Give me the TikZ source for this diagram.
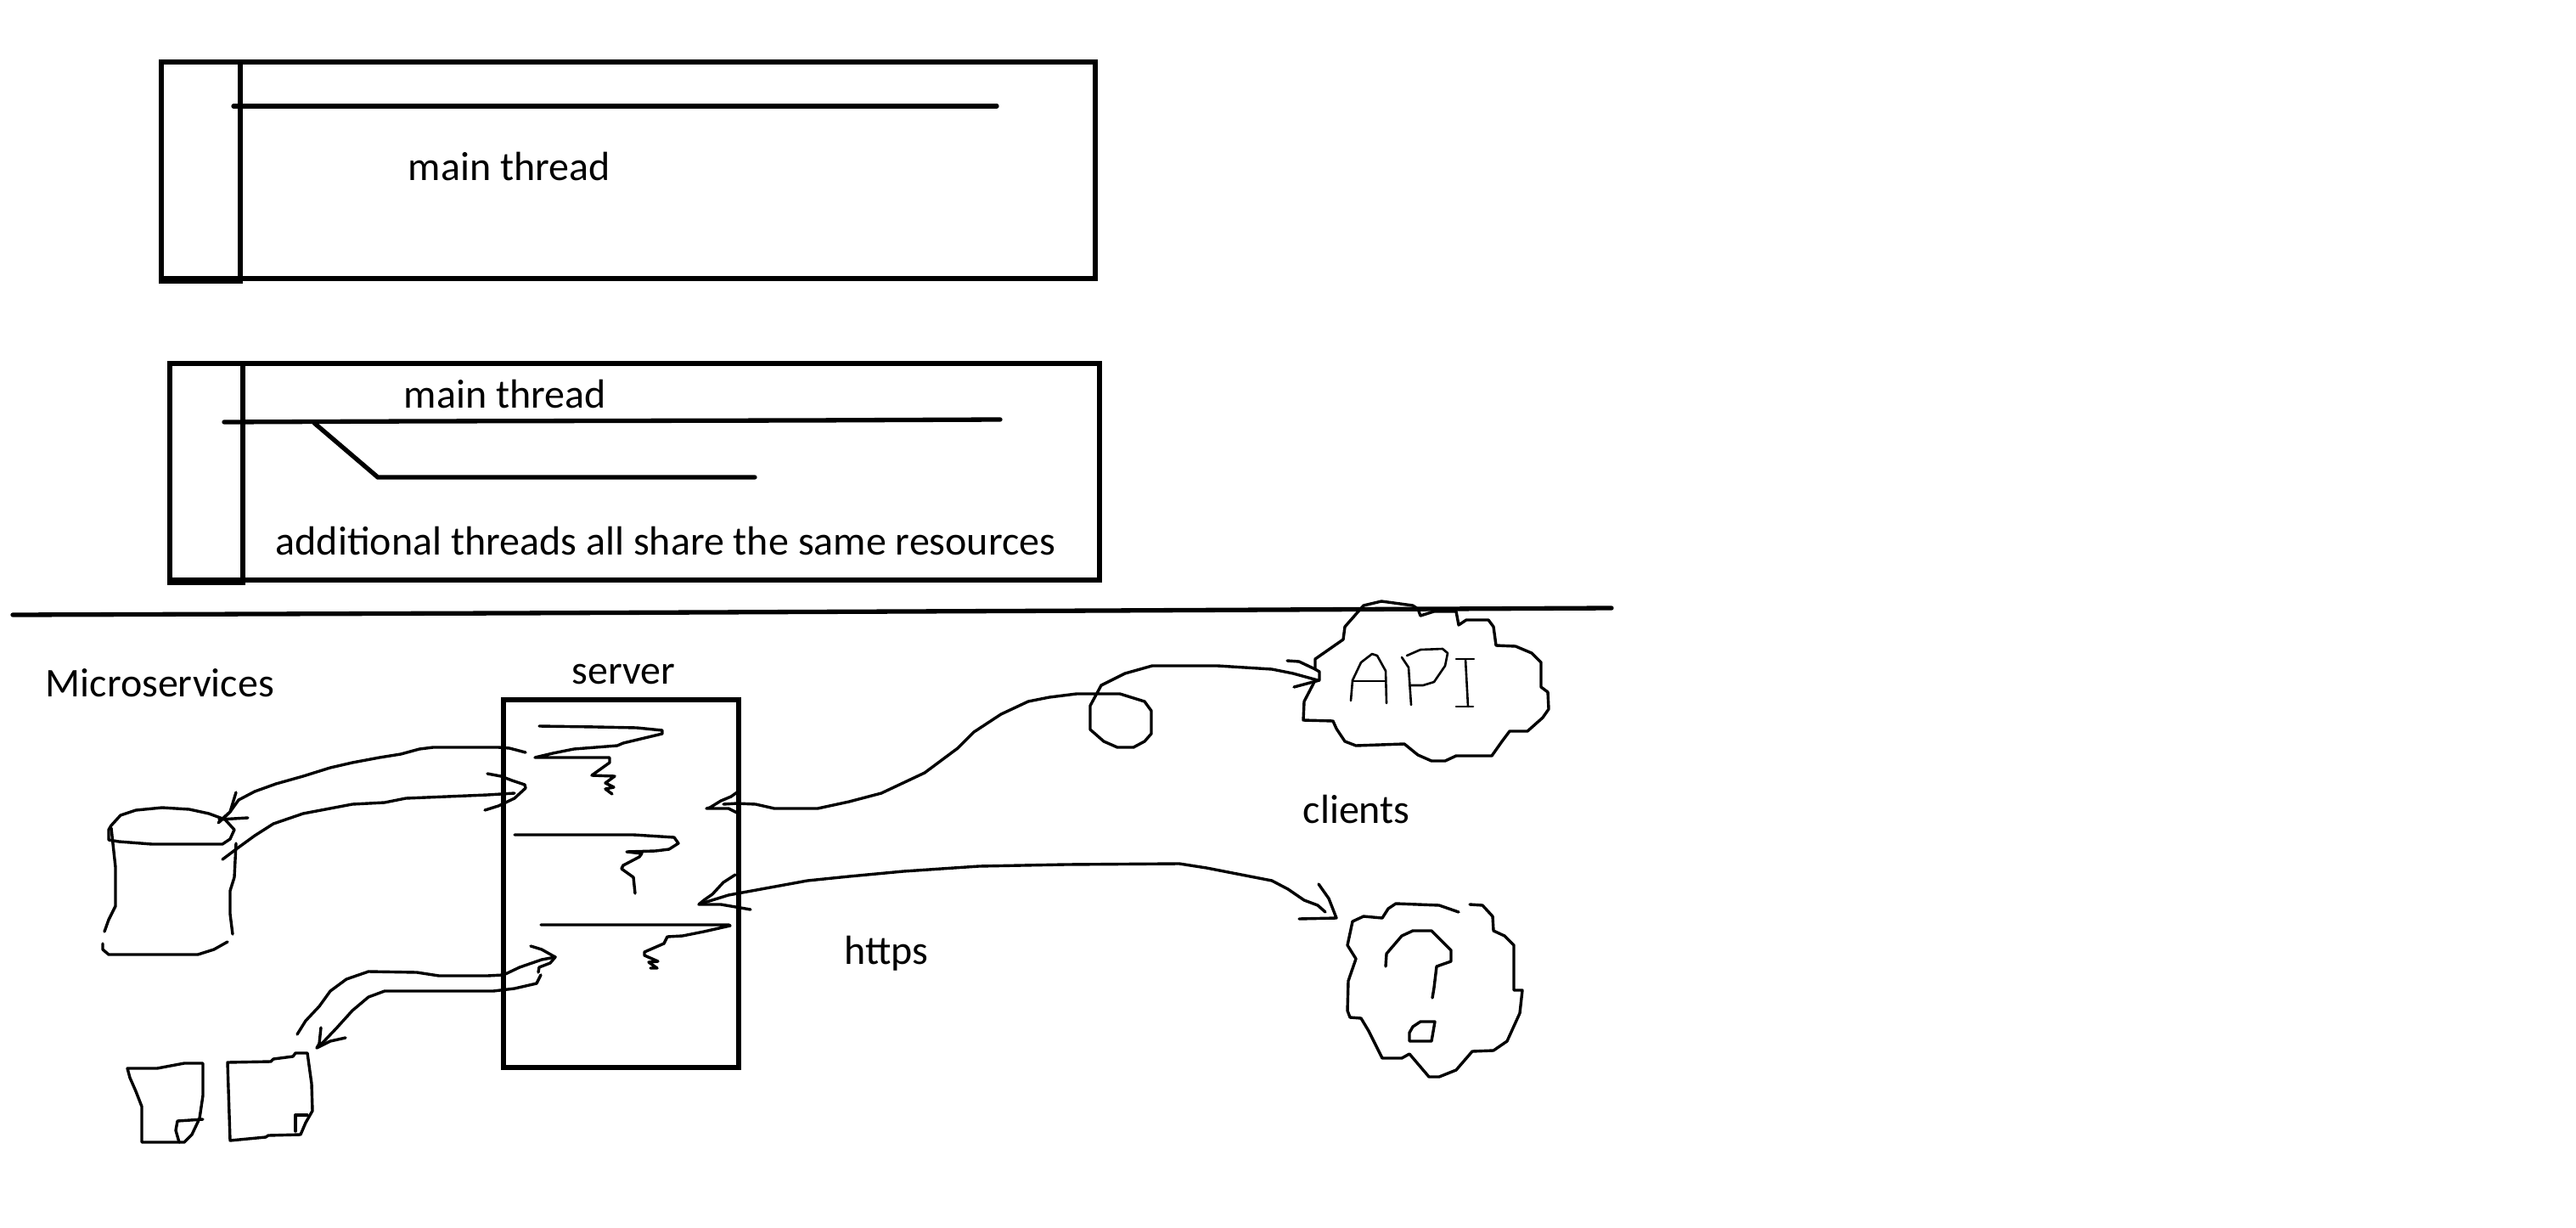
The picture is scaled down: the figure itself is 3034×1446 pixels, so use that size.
\documentclass[tikz,border=0pt]{standalone}
\usepackage{fontspec}
\setmainfont{Carlito}

\begin{document}
\begin{tikzpicture}[x=0.01cm,y=-0.01cm,
		frame/.style={line width=0.053cm,line join=miter},
		pen/.style={line width=0.034cm,line join=round,line cap=round},
		thin pen/.style={line width=0.026cm,line join=round,line cap=round},
		rule/.style={line width=0.053cm,line cap=round},
		label/.style={anchor=base west,inner sep=0pt,font=\fontsize{13.65pt}{16pt}\selectfont}]
	\useasboundingbox (0,0) rectangle (3034,1446);

	\foreach \l/\c/\r/\t/\b in {190/283/1290/73/328, 200/286/1295/428/683} {
		\draw [frame] (\l,\t) rectangle (\r,\b);
		\draw [frame] (\l,\t) rectangle (\c,\b+3);
	}
	\draw [rule] (275,125) -- (1174,125);
	\draw [rule] (264,497) -- (492,496) -- (950,495) -- (1178,494);
	\draw [rule] (370,498) -- (445,562) -- (889,562);
	\draw [rule] (15,724) -- (600,722) -- (1300,719) -- (1898,716);
	\draw [frame] (593,824) rectangle (870,1257);

	\node [label] (mainone) at (480,213) {main thread};
	\node [label] (maintwo) at (475,480) {main thread};
	\node [label] (shared) at (324,653) {additional threads all share the same resources};
	\node [label] (micro) at (53,820) {Microservices};
	\node [label] (server) at (673,805) {server};
	\node [label] (clients) at (1534,969) {clients};
	\node [label] (https) at (994,1135) {https};

	% scribbles inside the server
	\draw [pen] (635,855) -- (702,856) -- (750,857) -- (780,860) -- (780,864) -- (734,875) -- (727,878) -- (676,882) -- (651,887) -- (630,892) -- (718,892) -- (718,898) -- (697,913) -- (724,914) -- (713,922) -- (723,927) -- (713,929) -- (721,935);
	\draw [pen] (606,983) -- (746,983) -- (794,986) -- (799,993) -- (788,1000) -- (772,1002) -- (738,1003) -- (756,1005) -- (753,1009) -- (734,1019) -- (732,1023) -- (746,1033) -- (748,1052);
	\draw [pen] (637,1089) -- (858,1089) -- (860,1090) -- (829,1097) -- (804,1102) -- (786,1103) -- (782,1111) -- (759,1121) -- (759,1125) -- (775,1132) -- (764,1133) -- (774,1140) -- (766,1140);

	% cylinder
	\draw [pen] (131,972) -- (128,977) -- (128,989) -- (140,991) -- (179,994) -- (262,994) -- (271,988) -- (276,977) -- (265,965) -- (246,958) -- (223,953) -- (191,951) -- (160,954) -- (142,960) -- cycle;
	\draw [pen] (131,975) -- (136,1021) -- (136,1067) -- (128,1083) -- (123,1097);
	\draw [pen] (278,993) -- (276,1033) -- (271,1049) -- (271,1076) -- (274,1100);
	\draw [pen] (121,1111) -- (121,1118) -- (128,1124) -- (233,1124) -- (252,1118) -- (268,1109);
	\draw [pen] (619,886) -- (600,881) -- (587,880) -- (510,880) -- (494,882) -- (472,888) -- (447,892) -- (415,898) -- (389,904) -- (357,914) -- (325,923) -- (300,932) -- (281,942) -- (271,956) -- (258,968);
	\draw [pen] (278,933) -- (271,956) -- (257,969);
	\draw [pen] (258,965) -- (292,963);
	\draw [pen] (262,1012) -- (278,1000) -- (300,984) -- (322,970) -- (357,958) -- (415,947) -- (453,945) -- (478,940) -- (574,936) -- (606,934);
	\draw [pen] (574,911) -- (590,914) -- (603,919) -- (618,924) -- (619,928) -- (606,940) -- (587,949) -- (571,954);

	% documents
	\draw [pen] (150,1258) -- (185,1258) -- (217,1252) -- (239,1252) -- (239,1290) -- (235,1317) -- (226,1336) -- (217,1345) -- (167,1345) -- (167,1303) -- (160,1285) -- (153,1269) -- cycle;
	\draw [pen] (239,1318) -- (209,1320) -- (207,1331) -- (211,1345);
	\draw [pen] (268,1251) -- (319,1250) -- (322,1247) -- (345,1244) -- (348,1240) -- (362,1240) -- (367,1276) -- (368,1308) -- (360,1322) -- (354,1336) -- (316,1337) -- (313,1339) -- (271,1343) -- cycle;
	\draw [pen] (362,1313) -- (348,1313) -- (348,1332);
	\draw [pen] (654,1127) -- (638,1130) -- (612,1139) -- (593,1148) -- (574,1149) -- (517,1149) -- (491,1145) -- (434,1144) -- (408,1153) -- (389,1167) -- (376,1185) -- (360,1202) -- (350,1218);
	\draw [pen] (625,1114) -- (638,1118) -- (654,1127) -- (648,1134) -- (635,1139) -- (634,1145);
	\draw [pen] (637,1148) -- (632,1158) -- (606,1164) -- (581,1167) -- (453,1167) -- (434,1174) -- (415,1190) -- (396,1211) -- (376,1232);
	\draw [pen] (378,1210) -- (376,1229) -- (373,1234) -- (389,1226) -- (407,1222);

	% API cloud and the loop to it
	\draw [pen] (868,933) -- (861,938) -- (849,943) -- (836,951) -- (832,952) -- (858,952) -- (868,957);
	\draw [pen] (852,947) -- (868,946) -- (890,947) -- (912,952) -- (963,952) -- (1000,944) -- (1038,934) -- (1089,910) -- (1128,881) -- (1147,862) -- (1179,841) -- (1211,826) -- (1236,821) -- (1268,817) -- (1319,817) -- (1348,826) -- (1356,837) -- (1356,864) -- (1348,873) -- (1335,880) -- (1316,880) -- (1300,873) -- (1284,859) -- (1284,831) -- (1297,807) -- (1325,793) -- (1357,784) -- (1434,784) -- (1498,788) -- (1523,793) -- (1552,801);
	\draw [pen] (1516,778) -- (1530,779) -- (1549,788) -- (1554,791) -- (1554,801) -- (1524,809);
	\draw [pen] (1673,725) -- (1689,720) -- (1715,720) -- (1718,736) -- (1727,730) -- (1753,730) -- (1759,738) -- (1762,760) -- (1785,761) -- (1804,769) -- (1815,780) -- (1815,809) -- (1823,815) -- (1824,835) -- (1817,845) -- (1799,861) -- (1778,861) -- (1769,873) -- (1757,890) -- (1715,890) -- (1702,896) -- (1686,896) -- (1670,889) -- (1654,876) -- (1597,878) -- (1584,873) -- (1574,858) -- (1570,849) -- (1535,848) -- (1536,826) -- (1549,801);
	\draw [pen] (1549,788) -- (1549,776) -- (1582,753) -- (1584,738) -- (1606,713) -- (1627,708) -- (1664,713) -- (1670,717) -- (1673,725);
	\draw [thin pen] (1591,825) -- (1593,801) -- (1603,780) -- (1616,770) -- (1622,772) -- (1632,790) -- (1633,828);
	\draw [thin pen] (1593,802) -- (1632,802);
	\draw [thin pen] (1651,774) -- (1659,786) -- (1662,830);
	\draw [thin pen] (1657,772) -- (1673,765) -- (1699,764) -- (1705,769) -- (1702,784) -- (1689,803) -- (1676,807) -- (1660,807);
	\draw [thin pen] (1715,776) -- (1736,776);
	\draw [thin pen] (1726,776) -- (1729,832);
	\draw [thin pen] (1715,832) -- (1735,832);

	% question cloud
	\draw [pen] (866,1030) -- (852,1039) -- (839,1053) -- (829,1060) -- (823,1065) -- (849,1065) -- (884,1071);
	\draw [pen] (829,1063) -- (858,1054) -- (951,1037) -- (1000,1032) -- (1064,1026) -- (1153,1020) -- (1255,1018) -- (1389,1017) -- (1421,1022) -- (1498,1037) -- (1517,1047) -- (1536,1060) -- (1552,1066) -- (1561,1074);
	\draw [pen] (1553,1041) -- (1565,1058) -- (1574,1081) -- (1530,1082);
	\draw [pen] (1718,1074) -- (1695,1066) -- (1644,1064) -- (1635,1070) -- (1628,1081) -- (1606,1079) -- (1593,1085) -- (1587,1113) -- (1597,1129) -- (1588,1155) -- (1587,1190) -- (1590,1198) -- (1603,1199) -- (1612,1214) -- (1628,1246) -- (1651,1246) -- (1660,1241) -- (1683,1268) -- (1695,1268) -- (1715,1260) -- (1734,1238) -- (1759,1237) -- (1775,1226) -- (1790,1193) -- (1793,1166) -- (1783,1166) -- (1783,1113) -- (1772,1102) -- (1759,1096) -- (1758,1079) -- (1746,1066) -- (1731,1065);
	\draw [pen] (1632,1138) -- (1633,1123) -- (1651,1102) -- (1664,1096) -- (1686,1096) -- (1709,1119) -- (1709,1132) -- (1692,1138) -- (1689,1163) -- (1687,1175);
	\draw [pen] (1664,1209) -- (1673,1203) -- (1690,1203) -- (1686,1226) -- (1660,1226) -- (1660,1216) -- cycle;
\end{tikzpicture}
\end{document}
